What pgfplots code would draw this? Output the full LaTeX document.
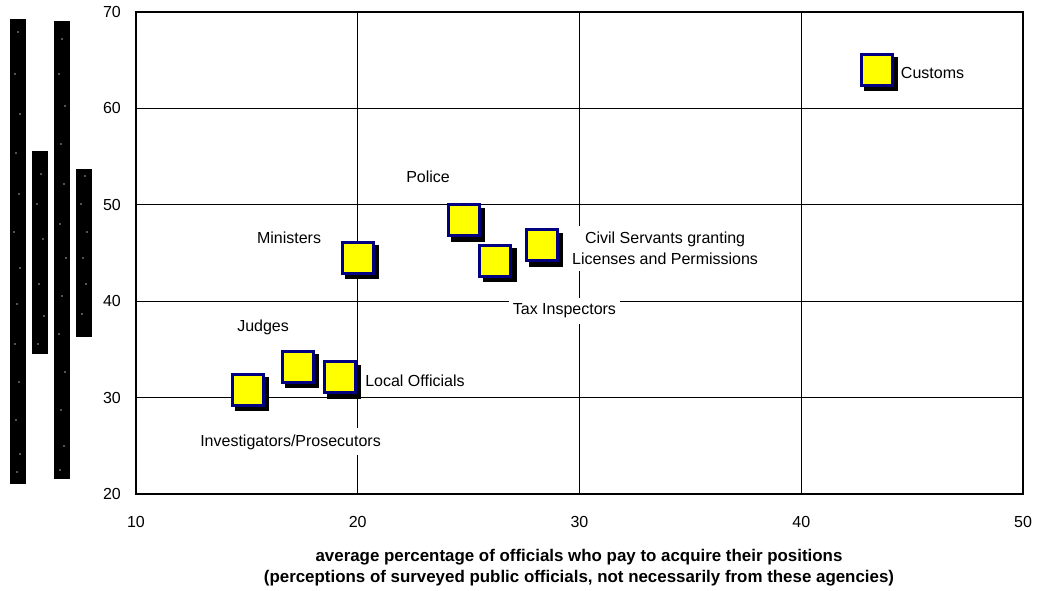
\documentclass[border=0pt]{standalone}
\usepackage{fontspec}
\setmainfont{Liberation Sans}
\usepackage{pgfplots}
\pgfplotsset{compat=1.18}
\definecolor{mkyellow}{RGB}{255,255,0}
\definecolor{mknavy}{RGB}{0,0,128}

\begin{document}
\begin{tikzpicture}[x=1pt,y=1pt,
  lbl/.style={fill=white, inner xsep=4pt, inner ysep=6pt, font=\fontsize{16}{21}\selectfont, align=center}]
\useasboundingbox (-136,-96) rectangle (901,494);
% dark strips at the left edge
\fill[black] (-126,10) rectangle (-110,475);
\fill[black] (-104,140) rectangle (-88,343);
\fill[black] (-82,15) rectangle (-66,473);
\fill[black] (-60,157) rectangle (-44,325);
\foreach \p in {(-118,462),(-121,420),(-116,380),(-120,341),(-117,300),(-122,262),(-116,226),(-119,190),(-121,150),(-117,112),(-120,74),(-116,40),(-119,22),
  (-95,320),(-99,290),(-93,255),(-97,210),(-92,178),(-98,150),
  (-74,455),(-77,420),(-71,388),(-75,350),(-72,310),(-76,270),(-70,236),(-74,198),(-77,160),(-71,122),(-75,84),(-72,48),(-76,24),
  (-51,318),(-55,290),(-49,262),(-53,236),(-50,210),(-54,180)}
  \fill[gray!70] \p circle (0.9);
\begin{axis}[
  at={(0,0)}, anchor=south west,
  scale only axis, width=887pt, height=482pt,
  xmin=10, xmax=50, ymin=20, ymax=70,
  xtick={10,20,30,40,50}, ytick={20,30,40,50,60,70},
  grid=major, major grid style={black, line width=0.9pt},
  major tick length=0pt,
  axis line style={line width=1.8pt},
  tick label style={font=\fontsize{16}{18}\selectfont, inner sep=0pt},
  xticklabel style={yshift=-22pt},
  yticklabel style={xshift=-15pt},
  /pgf/number format/assume math mode=true,
]
% shadows
\addplot[only marks, mark=square*, mark size=16.5pt,
  mark options={draw=none, fill=black, xshift=4pt, yshift=-4pt}] coordinates {
(15.05,30.8) (17.3,33.2) (19.2,32.1) (20.0,44.5)
(24.8,48.4) (26.2,44.2) (28.3,45.8) (43.4,64.0)
};
% squares
\addplot[only marks, mark=square*, mark size=15.5pt,
  mark options={draw=mknavy, fill=mkyellow, line width=2.8pt}] coordinates {
(15.05,30.8) (17.3,33.2) (19.2,32.1) (20.0,44.5)
(24.8,48.4) (26.2,44.2) (28.3,45.8) (43.4,64.0)
};
\node[lbl] at (axis cs:45.92,63.67) {Customs};
\node[lbl] at (axis cs:23.17,52.9) {Police};
\node[lbl] at (axis cs:16.9,46.56) {Ministers};
\node[lbl] at (axis cs:33.86,45.47) {Civil Servants granting\\Licenses and Permissions};
\node[lbl] at (axis cs:29.32,39.0) {Tax Inspectors};
\node[lbl] at (axis cs:15.73,37.32) {Judges};
\node[lbl] at (axis cs:22.58,31.72) {Local Officials};
\node[lbl] at (axis cs:16.97,25.4) {Investigators/Prosecutors};
\end{axis}
\node[align=center, font=\bfseries\fontsize{16.9}{21}\selectfont] at (443,-73.5)
  {average percentage of officials who pay to acquire their positions\\(perceptions of surveyed public officials, not necessarily from these agencies)};
\end{tikzpicture}
\end{document}
